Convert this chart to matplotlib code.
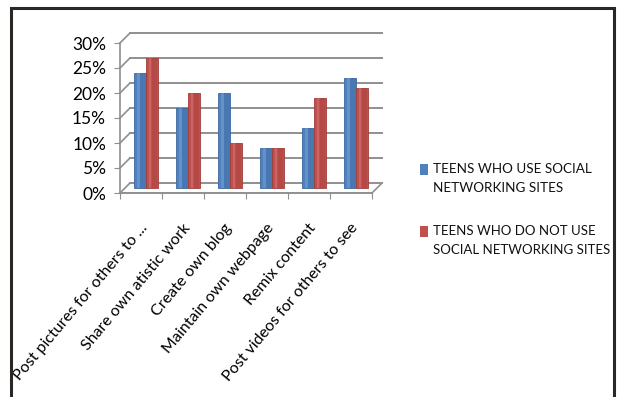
import matplotlib.pyplot as plt
import matplotlib.transforms as mtransforms
from matplotlib.patches import Rectangle
from matplotlib.ticker import FuncFormatter

activities = [
    "Post pictures for others to ...",
    "Share own atistic work",
    "Create own blog",
    "Maintain own webpage",
    "Remix content",
    "Post videos for others to see",
]
sns_users = [23, 16, 19, 8, 12, 22]
non_users = [26, 19, 9, 8, 18, 20]
series_names = [
    "TEENS WHO USE SOCIAL\nNETWORKING SITES",
    "TEENS WHO DO NOT USE\nSOCIAL NETWORKING SITES",
]
y_ticks = [0, 5, 10, 15, 20, 25, 30]

plt.rcParams["font.family"] = ["Lato", "DejaVu Sans"]

W, H = 617, 397
fig = plt.figure(figsize=(W / 100, H / 100), dpi=100)

# outer frame
fig.add_artist(Rectangle((11 / W, -0.05), 603 / W, 1.05 - 8 / H,
                         transform=fig.transFigure, fill=False,
                         edgecolor="#2b2725", linewidth=2.2))

ax = fig.add_axes([120 / W, 1 - 193 / H, 265 / W, 162 / H])
ax.set_xlim(-0.5, -0.5 + 265 / 42)
ax.set_ylim(0, 32.4)
ax.patch.set_visible(False)

# pseudo 3d depth of the plot box (in data units)
dx = 10 / 42
dy = 2.0
grid_c = "#8f8f8f"
n = len(activities)

for v in y_ticks:
    ax.plot([-0.5, -0.5 + dx], [v, v + dy], color=grid_c, lw=1.2, clip_on=False)
    ax.plot([-0.5 + dx, n - 0.5 + dx], [v + dy, v + dy], color=grid_c, lw=1.4,
            clip_on=False)
ax.plot([n - 0.5, n - 0.5 + dx], [0, dy], color=grid_c, lw=1.2, clip_on=False)

# bars sit at half depth
w = 0.28
shift = dx / 2
xs = range(n)
colors = [("#4f81bd", "#3b67a0", "#7ea6d8"), ("#c0504d", "#a23c39", "#da807d")]
for k, vals in enumerate([sns_users, non_users]):
    col, dark, light = colors[k]
    pos = [i + shift + (k - 0.5) * w for i in xs]
    ax.bar(pos, vals, width=w, bottom=dy / 2, color=col,
           edgecolor=dark, linewidth=0.6, zorder=3)
    ax.bar([p + w * 0.22 for p in pos], vals, width=w * 0.5, bottom=dy / 2,
           color=dark, alpha=0.35, linewidth=0, zorder=4)
    ax.bar([p - w * 0.15 for p in pos], vals, width=w * 0.2, bottom=dy / 2,
           color=light, alpha=0.45, linewidth=0, zorder=4)

for s in ["top", "right"]:
    ax.spines[s].set_visible(False)
ax.spines["left"].set_bounds(0, 30)
ax.spines["bottom"].set_bounds(-0.5, n - 0.5)
ax.spines["left"].set_color(grid_c)
ax.spines["bottom"].set_color(grid_c)
ax.spines["left"].set_linewidth(1.2)
ax.spines["bottom"].set_linewidth(1.4)

ax.set_yticks(y_ticks)
ax.yaxis.set_major_formatter(FuncFormatter(lambda v, _: f"{v:.0f}%"))
ax.tick_params(axis="y", length=4, color=grid_c, labelsize=12.5, pad=6)

ax.set_xticks([i - 0.5 for i in range(n + 1)])
ax.set_xticklabels([])
ax.tick_params(axis="x", which="major", length=4, color=grid_c)
ax.set_xticks(list(xs), activities, minor=True)
ax.tick_params(axis="x", which="minor", length=0, labelsize=11.5, pad=0)
offset = mtransforms.ScaledTranslation(-1 / 100, -28 / 100, fig.dpi_scale_trans)
for lab in ax.get_xticklabels(minor=True):
    lab.set_rotation(50)
    lab.set_ha("right")
    lab.set_va("top")
    lab.set_rotation_mode("anchor")
    lab.set_transform(lab.get_transform() + offset)

# legend: key squares aligned with the first line of each label
renderer = fig.canvas.get_renderer()
for k, (name, y0) in enumerate(zip(series_names, [164, 226])):
    fig.add_artist(Rectangle((420 / W, 1 - (y0 + 11) / H), 8 / W, 11 / H,
                             transform=fig.transFigure,
                             facecolor=colors[k][0], edgecolor="none"))
    t = fig.text(433 / W, 1 - (y0 - 1) / H, name, fontsize=12,
                 va="top", ha="left", linespacing=1.75, color="#111111")
    # shrink so the longest line stays inside the frame
    size = 12
    while t.get_window_extent(renderer).width > (178 if k else 160) and size > 8:
        size -= 0.25
        t.set_fontsize(size)

fig.savefig("out.png", dpi=100)
